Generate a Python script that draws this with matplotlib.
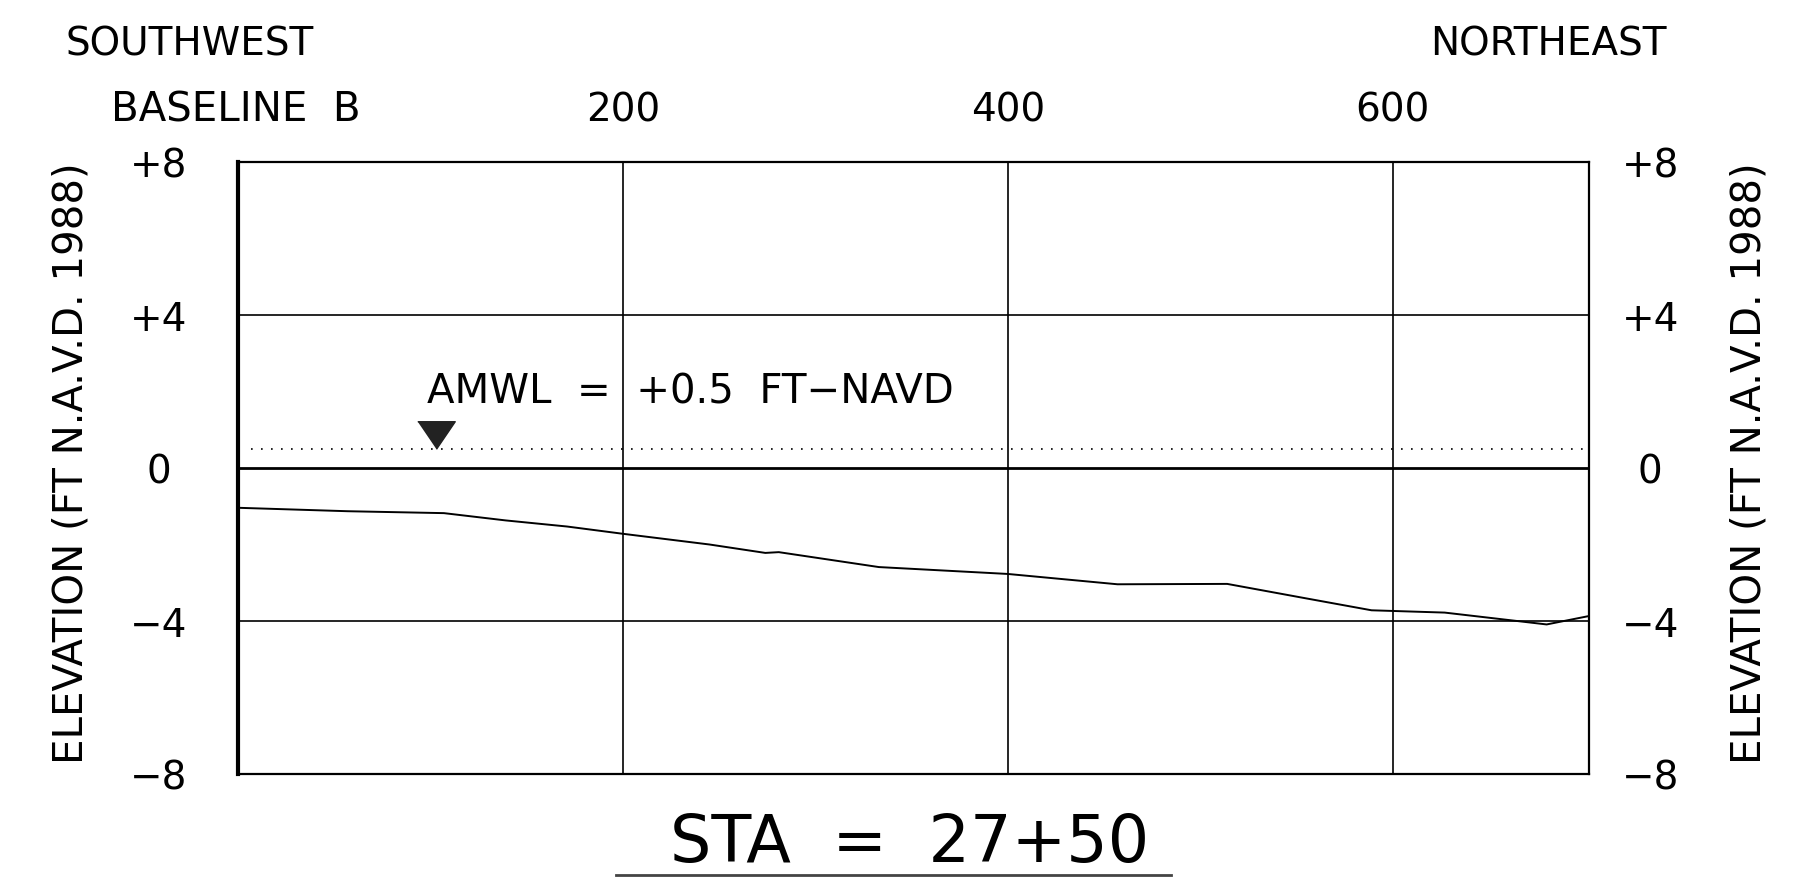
import matplotlib
matplotlib.use('Agg')
import matplotlib.pyplot as plt
from matplotlib import transforms
from matplotlib.lines import Line2D

# profile (station in ft from baseline B, elevation ft NAVD88)
station = [0, 57, 107, 139, 171, 200, 245, 274, 281, 333, 400, 457, 514, 553, 589, 627, 680, 702]
elevation = [-1.04, -1.13, -1.18, -1.37, -1.53, -1.72, -2.0, -2.22, -2.2, -2.59, -2.77, -3.04, -3.03,
             -3.39, -3.72, -3.78, -4.09, -3.87]

amwl = 0.5
amwl_extent = [7, 699]
amwl_marker_sta = 103

x_ticks = [200, 400, 600]
x_labels = ['200', '400', '600']
y_ticks = [-8, -4, 0, 4, 8]
y_labels = ['\u22128', '\u22124', '0', '+4', '+8']

W, H = 1800, 878
fig = plt.figure(figsize=(18, 8.78), dpi=100)
plt.rcParams['font.family'] = ['DejaVu Sans']
ax = fig.add_axes([238 / W, 1 - 775 / H, (1589 - 238) / W, (775 - 163) / H])

ax.set_xlim(0, 702)
ax.set_ylim(-8, 8)

# grid
for v in x_ticks:
    ax.axvline(v, color='black', lw=1.2)
for v in [-4, 4]:
    ax.axhline(v, color='black', lw=1.2)
ax.axhline(0, color='black', lw=2.0)

# ground profile
ax.plot(station, elevation, color='black', lw=1.4)

# water level
ax.plot(amwl_extent, [amwl, amwl], color='black', lw=1.2, linestyle=(0, (1, 5)))
tri = transforms.offset_copy(ax.transData, fig=fig, y=14, units='dots')
ax.plot([amwl_marker_sta], [amwl], marker=[(-0.68, 0.5), (0.68, 0.5), (0, -0.5)],
        ms=27, color='#222222', transform=tri)
ax.text(98, 1.7, 'AMWL  =  +0.5  FT\u2212NAVD', fontsize=29, ha='left', va='baseline')

# axes / ticks
for s in ax.spines.values():
    s.set_linewidth(1.6)
ax.spines['left'].set_linewidth(3.0)

ax.xaxis.tick_top()
ax.set_xticks(x_ticks)
ax.set_xticklabels(x_labels)
ax.tick_params(axis='x', length=0, pad=24, labelsize=28)

ax.set_yticks(y_ticks)
ax.set_yticklabels(y_labels)
ax.tick_params(axis='y', length=0, pad=57, labelsize=28)
for lab in ax.get_yticklabels():
    lab.set_ha('center')

ax2 = ax.twinx()
ax2.set_ylim(-8, 8)
ax2.set_yticks(y_ticks)
ax2.set_yticklabels(y_labels)
ax2.tick_params(axis='y', length=0, pad=44, labelsize=28)
for lab in ax2.get_yticklabels():
    lab.set_ha('center')
for s in ax2.spines.values():
    s.set_visible(False)

# side labels
ylab = 'ELEVATION (FT N.A.V.D. 1988)'
fig.text(72 / W, 1 - 463 / H, ylab, rotation=90, ha='center', va='center', fontsize=29)
fig.text(1749 / W, 1 - 463 / H, ylab, rotation=90, ha='center', va='center', fontsize=29)

fig.text(65 / W, 1 - 44 / H, 'SOUTHWEST', ha='left', va='center', fontsize=28)
fig.text(1667 / W, 1 - 44 / H, 'NORTHEAST', ha='right', va='center', fontsize=28)
fig.text(111 / W, 1 - 111 / H, 'BASELINE  B', ha='left', va='center', fontsize=29)

# station title
fig.text(910 / W, 1 - 862 / H, 'STA  =  27+50', ha='center', va='baseline', fontsize=47)
fig.add_artist(Line2D([616 / W, 1171 / W], [1 - 876 / H, 1 - 876 / H], color='#444444', lw=2,
                      transform=fig.transFigure))

fig.savefig('out.png', dpi=100, facecolor='white')
